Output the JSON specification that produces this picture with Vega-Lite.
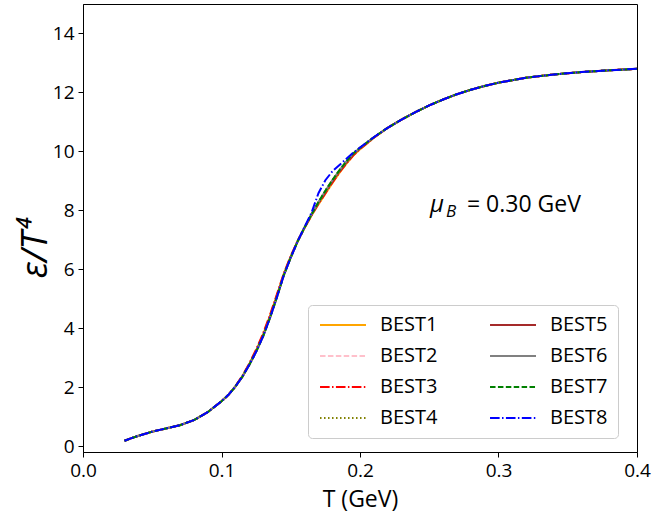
{
  "$schema": "https://vega.github.io/schema/vega-lite/v6.json",
  "width": 554,
  "height": 448,
  "autosize": {"type": "none"},
  "padding": {"left": 83, "top": 4, "right": 18, "bottom": 70},
  "background": "white",
  "config": {
    "view": {"stroke": "black", "strokeWidth": 1},
    "font": "Open Sans",
    "axis": {
      "grid": false,
      "domainColor": "black",
      "tickColor": "black",
      "labelColor": "black",
      "titleColor": "black",
      "labelFont": "Open Sans",
      "titleFont": "Open Sans",
      "labelFontSize": 19,
      "tickSize": 5,
      "labelPadding": 4,
      "labelFlush": false
    }
  },
  "datasets": {
    "curves": [
      {"T": 0.030, "BEST1": 0.18, "BEST2": 0.18, "BEST3": 0.18, "BEST4": 0.18, "BEST5": 0.18, "BEST6": 0.18, "BEST7": 0.18, "BEST8": 0.18},
      {"T": 0.035, "BEST1": 0.27, "BEST2": 0.27, "BEST3": 0.27, "BEST4": 0.27, "BEST5": 0.27, "BEST6": 0.27, "BEST7": 0.27, "BEST8": 0.27},
      {"T": 0.040, "BEST1": 0.35, "BEST2": 0.35, "BEST3": 0.35, "BEST4": 0.35, "BEST5": 0.35, "BEST6": 0.35, "BEST7": 0.35, "BEST8": 0.35},
      {"T": 0.045, "BEST1": 0.42, "BEST2": 0.42, "BEST3": 0.42, "BEST4": 0.42, "BEST5": 0.42, "BEST6": 0.42, "BEST7": 0.42, "BEST8": 0.42},
      {"T": 0.050, "BEST1": 0.49, "BEST2": 0.49, "BEST3": 0.49, "BEST4": 0.49, "BEST5": 0.49, "BEST6": 0.49, "BEST7": 0.49, "BEST8": 0.49},
      {"T": 0.060, "BEST1": 0.60, "BEST2": 0.60, "BEST3": 0.60, "BEST4": 0.60, "BEST5": 0.60, "BEST6": 0.60, "BEST7": 0.60, "BEST8": 0.60},
      {"T": 0.070, "BEST1": 0.71, "BEST2": 0.71, "BEST3": 0.71, "BEST4": 0.71, "BEST5": 0.71, "BEST6": 0.71, "BEST7": 0.71, "BEST8": 0.71},
      {"T": 0.080, "BEST1": 0.88, "BEST2": 0.88, "BEST3": 0.88, "BEST4": 0.88, "BEST5": 0.88, "BEST6": 0.88, "BEST7": 0.88, "BEST8": 0.88},
      {"T": 0.090, "BEST1": 1.15, "BEST2": 1.15, "BEST3": 1.15, "BEST4": 1.15, "BEST5": 1.15, "BEST6": 1.15, "BEST7": 1.15, "BEST8": 1.15},
      {"T": 0.100, "BEST1": 1.52, "BEST2": 1.52, "BEST3": 1.52, "BEST4": 1.52, "BEST5": 1.52, "BEST6": 1.52, "BEST7": 1.52, "BEST8": 1.52},
      {"T": 0.105, "BEST1": 1.74, "BEST2": 1.74, "BEST3": 1.74, "BEST4": 1.74, "BEST5": 1.74, "BEST6": 1.74, "BEST7": 1.74, "BEST8": 1.74},
      {"T": 0.110, "BEST1": 2.02, "BEST2": 2.02, "BEST3": 2.03, "BEST4": 2.02, "BEST5": 2.02, "BEST6": 2.02, "BEST7": 2.02, "BEST8": 2.02},
      {"T": 0.115, "BEST1": 2.37, "BEST2": 2.35, "BEST3": 2.38, "BEST4": 2.35, "BEST5": 2.35, "BEST6": 2.35, "BEST7": 2.35, "BEST8": 2.35},
      {"T": 0.120, "BEST1": 2.78, "BEST2": 2.75, "BEST3": 2.80, "BEST4": 2.75, "BEST5": 2.76, "BEST6": 2.75, "BEST7": 2.75, "BEST8": 2.75},
      {"T": 0.125, "BEST1": 3.25, "BEST2": 3.21, "BEST3": 3.28, "BEST4": 3.20, "BEST5": 3.22, "BEST6": 3.20, "BEST7": 3.20, "BEST8": 3.20},
      {"T": 0.130, "BEST1": 3.78, "BEST2": 3.73, "BEST3": 3.82, "BEST4": 3.72, "BEST5": 3.74, "BEST6": 3.72, "BEST7": 3.72, "BEST8": 3.72},
      {"T": 0.135, "BEST1": 4.42, "BEST2": 4.36, "BEST3": 4.45, "BEST4": 4.35, "BEST5": 4.37, "BEST6": 4.35, "BEST7": 4.35, "BEST8": 4.35},
      {"T": 0.140, "BEST1": 5.12, "BEST2": 5.06, "BEST3": 5.15, "BEST4": 5.05, "BEST5": 5.07, "BEST6": 5.05, "BEST7": 5.05, "BEST8": 5.05},
      {"T": 0.145, "BEST1": 5.85, "BEST2": 5.81, "BEST3": 5.86, "BEST4": 5.80, "BEST5": 5.81, "BEST6": 5.80, "BEST7": 5.80, "BEST8": 5.80},
      {"T": 0.150, "BEST1": 6.44, "BEST2": 6.41, "BEST3": 6.45, "BEST4": 6.40, "BEST5": 6.41, "BEST6": 6.40, "BEST7": 6.40, "BEST8": 6.40},
      {"T": 0.155, "BEST1": 6.96, "BEST2": 6.95, "BEST3": 6.97, "BEST4": 6.95, "BEST5": 6.95, "BEST6": 6.95, "BEST7": 6.95, "BEST8": 6.95},
      {"T": 0.160, "BEST1": 7.40, "BEST2": 7.42, "BEST3": 7.41, "BEST4": 7.42, "BEST5": 7.42, "BEST6": 7.42, "BEST7": 7.42, "BEST8": 7.44},
      {"T": 0.165, "BEST1": 7.82, "BEST2": 7.86, "BEST3": 7.83, "BEST4": 7.86, "BEST5": 7.85, "BEST6": 7.86, "BEST7": 7.86, "BEST8": 7.92},
      {"T": 0.170, "BEST1": 8.20, "BEST2": 8.27, "BEST3": 8.22, "BEST4": 8.28, "BEST5": 8.25, "BEST6": 8.28, "BEST7": 8.28, "BEST8": 8.58},
      {"T": 0.175, "BEST1": 8.56, "BEST2": 8.65, "BEST3": 8.58, "BEST4": 8.66, "BEST5": 8.62, "BEST6": 8.66, "BEST7": 8.66, "BEST8": 9.02},
      {"T": 0.180, "BEST1": 8.92, "BEST2": 9.01, "BEST3": 8.94, "BEST4": 9.02, "BEST5": 8.98, "BEST6": 9.02, "BEST7": 9.02, "BEST8": 9.32},
      {"T": 0.185, "BEST1": 9.26, "BEST2": 9.34, "BEST3": 9.28, "BEST4": 9.35, "BEST5": 9.31, "BEST6": 9.35, "BEST7": 9.35, "BEST8": 9.53},
      {"T": 0.190, "BEST1": 9.57, "BEST2": 9.64, "BEST3": 9.58, "BEST4": 9.65, "BEST5": 9.61, "BEST6": 9.65, "BEST7": 9.65, "BEST8": 9.74},
      {"T": 0.195, "BEST1": 9.85, "BEST2": 9.91, "BEST3": 9.86, "BEST4": 9.92, "BEST5": 9.89, "BEST6": 9.92, "BEST7": 9.92, "BEST8": 9.95},
      {"T": 0.200, "BEST1": 10.07, "BEST2": 10.12, "BEST3": 10.08, "BEST4": 10.12, "BEST5": 10.10, "BEST6": 10.12, "BEST7": 10.12, "BEST8": 10.13},
      {"T": 0.210, "BEST1": 10.46, "BEST2": 10.48, "BEST3": 10.46, "BEST4": 10.48, "BEST5": 10.47, "BEST6": 10.48, "BEST7": 10.48, "BEST8": 10.48},
      {"T": 0.220, "BEST1": 10.80, "BEST2": 10.80, "BEST3": 10.80, "BEST4": 10.80, "BEST5": 10.80, "BEST6": 10.80, "BEST7": 10.80, "BEST8": 10.80},
      {"T": 0.230, "BEST1": 11.08, "BEST2": 11.08, "BEST3": 11.08, "BEST4": 11.08, "BEST5": 11.08, "BEST6": 11.08, "BEST7": 11.08, "BEST8": 11.08},
      {"T": 0.240, "BEST1": 11.33, "BEST2": 11.33, "BEST3": 11.33, "BEST4": 11.33, "BEST5": 11.33, "BEST6": 11.33, "BEST7": 11.33, "BEST8": 11.33},
      {"T": 0.250, "BEST1": 11.56, "BEST2": 11.56, "BEST3": 11.56, "BEST4": 11.56, "BEST5": 11.56, "BEST6": 11.56, "BEST7": 11.56, "BEST8": 11.56},
      {"T": 0.260, "BEST1": 11.76, "BEST2": 11.76, "BEST3": 11.76, "BEST4": 11.76, "BEST5": 11.76, "BEST6": 11.76, "BEST7": 11.76, "BEST8": 11.76},
      {"T": 0.270, "BEST1": 11.94, "BEST2": 11.94, "BEST3": 11.94, "BEST4": 11.94, "BEST5": 11.94, "BEST6": 11.94, "BEST7": 11.94, "BEST8": 11.94},
      {"T": 0.280, "BEST1": 12.09, "BEST2": 12.09, "BEST3": 12.09, "BEST4": 12.09, "BEST5": 12.09, "BEST6": 12.09, "BEST7": 12.09, "BEST8": 12.09},
      {"T": 0.290, "BEST1": 12.22, "BEST2": 12.22, "BEST3": 12.22, "BEST4": 12.22, "BEST5": 12.22, "BEST6": 12.22, "BEST7": 12.22, "BEST8": 12.22},
      {"T": 0.300, "BEST1": 12.33, "BEST2": 12.33, "BEST3": 12.33, "BEST4": 12.33, "BEST5": 12.33, "BEST6": 12.33, "BEST7": 12.33, "BEST8": 12.33},
      {"T": 0.320, "BEST1": 12.50, "BEST2": 12.50, "BEST3": 12.50, "BEST4": 12.50, "BEST5": 12.50, "BEST6": 12.50, "BEST7": 12.50, "BEST8": 12.50},
      {"T": 0.340, "BEST1": 12.61, "BEST2": 12.61, "BEST3": 12.61, "BEST4": 12.61, "BEST5": 12.61, "BEST6": 12.61, "BEST7": 12.61, "BEST8": 12.61},
      {"T": 0.360, "BEST1": 12.69, "BEST2": 12.69, "BEST3": 12.69, "BEST4": 12.69, "BEST5": 12.69, "BEST6": 12.69, "BEST7": 12.69, "BEST8": 12.69},
      {"T": 0.380, "BEST1": 12.75, "BEST2": 12.75, "BEST3": 12.75, "BEST4": 12.75, "BEST5": 12.75, "BEST6": 12.75, "BEST7": 12.75, "BEST8": 12.75},
      {"T": 0.400, "BEST1": 12.80, "BEST2": 12.80, "BEST3": 12.80, "BEST4": 12.80, "BEST5": 12.80, "BEST6": 12.80, "BEST7": 12.80, "BEST8": 12.80}
    ],
    "note": [
      {"T": 0.2505, "eps": 7.94, "mu": "μ", "sub": "B", "rest": "= 0.30 GeV"}
    ]
  },
  "layer": [
    {
      "data": {"name": "curves"},
      "transform": [
        {"fold": ["BEST1", "BEST2", "BEST3", "BEST4", "BEST5", "BEST6", "BEST7", "BEST8"], "as": ["series", "eps"]}
      ],
      "mark": {"type": "line", "strokeWidth": 2, "clip": true},
      "encoding": {
        "x": {
          "field": "T", "type": "quantitative",
          "scale": {"domain": [0, 0.4], "nice": false, "zero": false},
          "axis": {
            "values": [0, 0.1, 0.2, 0.3, 0.4], "format": ".1f",
            "title": "T (GeV)", "titleFontSize": 23, "titleFontWeight": "normal",
            "titleX": 277, "titleY": 47, "titleBaseline": "middle", "titleAlign": "center"
          }
        },
        "y": {
          "field": "eps", "type": "quantitative",
          "scale": {"domain": [-0.2, 15], "nice": false, "zero": false},
          "axis": {
            "values": [0, 2, 4, 6, 8, 10, 12, 14],
            "title": "ε/T⁴", "titleFontSize": 36, "titleFontWeight": "normal", "titleFontStyle": "italic",
            "titleAngle": -90, "titleX": -48, "titleY": 244, "titleAlign": "center", "titleBaseline": "middle"
          }
        },
        "color": {
          "field": "series", "type": "nominal",
          "scale": {
            "domain": ["BEST1", "BEST2", "BEST3", "BEST4", "BEST5", "BEST6", "BEST7", "BEST8"],
            "range": ["#FFA500", "#FFC0CB", "#FF0000", "#808000", "#A52A2A", "#808080", "#008000", "#0000FF"]
          },
          "legend": {
            "title": null,
            "orient": "none",
            "legendX": 225,
            "legendY": 301,
            "columns": 2,
            "direction": "vertical",
            "symbolType": "M-4,0H4",
            "symbolSize": 132,
            "symbolOffset": 15,
            "symbolStrokeWidth": 2,
            "labelFontSize": 20,
            "labelFont": "Open Sans",
            "labelColor": "black",
            "labelOffset": 27,
            "rowPadding": 11,
            "columnPadding": 48,
            "padding": 10,
            "strokeColor": "#cccccc",
            "fillColor": "rgba(255,255,255,0.8)",
            "cornerRadius": 4
          }
        },
        "strokeDash": {
          "field": "series", "type": "nominal",
          "scale": {
            "domain": ["BEST1", "BEST2", "BEST3", "BEST4", "BEST5", "BEST6", "BEST7", "BEST8"],
            "range": [[1, 0], [5.5, 2.4], [9.6, 2.4, 1.5, 2.4], [1.5, 2.5], [1, 0], [1, 0], [5.5, 2.4], [9.6, 2.4, 1.5, 2.4]]
          }
        }
      }
    },
    {
      "data": {"name": "note"},
      "mark": {"type": "text", "align": "left", "baseline": "alphabetic", "fontSize": 24, "fontStyle": "italic", "font": "Open Sans"},
      "encoding": {
        "x": {"field": "T", "type": "quantitative"},
        "y": {"field": "eps", "type": "quantitative"},
        "text": {"field": "mu"}
      }
    },
    {
      "data": {"name": "note"},
      "mark": {"type": "text", "align": "left", "baseline": "alphabetic", "fontSize": 17, "fontStyle": "italic", "font": "Open Sans", "dx": 16, "dy": 5},
      "encoding": {
        "x": {"field": "T", "type": "quantitative"},
        "y": {"field": "eps", "type": "quantitative"},
        "text": {"field": "sub"}
      }
    },
    {
      "data": {"name": "note"},
      "mark": {"type": "text", "align": "left", "baseline": "alphabetic", "fontSize": 23, "font": "Open Sans", "dx": 37},
      "encoding": {
        "x": {"field": "T", "type": "quantitative"},
        "y": {"field": "eps", "type": "quantitative"},
        "text": {"field": "rest"}
      }
    }
  ]
}
